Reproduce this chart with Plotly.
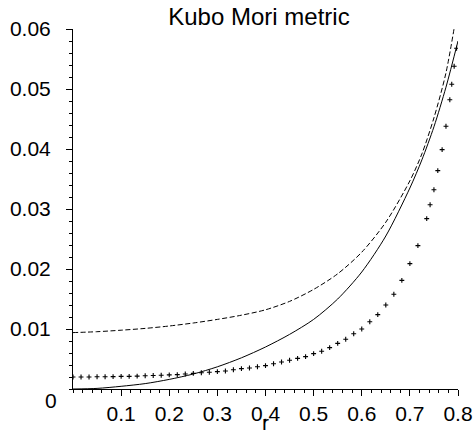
import plotly.graph_objects as go

# Solid curve
r_solid = [0.0, 0.05, 0.1, 0.15, 0.2, 0.25, 0.3, 0.35, 0.4, 0.45, 0.5, 0.55,
           0.6, 0.65, 0.7, 0.725, 0.75, 0.775, 0.8]
v_solid = [0.0, 0.0001, 0.00045, 0.0009, 0.0016, 0.0025, 0.0037, 0.0052, 0.0070,
           0.0091, 0.0116, 0.0150, 0.0195, 0.0255, 0.0335, 0.0382, 0.0437, 0.0503, 0.0580]

# Dashed curve
r_dash = [0.0, 0.05, 0.1, 0.15, 0.2, 0.25, 0.3, 0.35, 0.4, 0.45, 0.5, 0.55,
          0.6, 0.65, 0.7, 0.725, 0.75, 0.775, 0.8]
v_dash = [0.0094, 0.00955, 0.0098, 0.0101, 0.0105, 0.0110, 0.0116, 0.0123, 0.0132,
          0.0146, 0.0166, 0.0192, 0.0228, 0.0278, 0.0347, 0.0392, 0.0452, 0.0527, 0.0640]

# Point series (+ markers)
r_pts = [0.0, 0.0167, 0.0333, 0.05, 0.0667, 0.0833, 0.1, 0.1167, 0.1333, 0.15,
         0.1667, 0.1833, 0.2, 0.2167, 0.2333, 0.25, 0.2667, 0.2833, 0.3, 0.3167,
         0.3333, 0.35, 0.3667, 0.3833, 0.4, 0.4167, 0.4333, 0.45, 0.4667, 0.4833,
         0.5, 0.5167, 0.5333, 0.55, 0.5667, 0.5833, 0.6, 0.6167, 0.6333, 0.65,
         0.6667, 0.6833, 0.7, 0.7167, 0.735, 0.742, 0.75, 0.758, 0.767, 0.775,
         0.783, 0.787, 0.792, 0.797]
v_pts = [0.0020, 0.0020, 0.0020, 0.00205, 0.00205, 0.00207, 0.0021, 0.0021, 0.00215,
         0.0022, 0.00225, 0.0023, 0.00235, 0.0024, 0.0025, 0.0026, 0.0027, 0.0028,
         0.0029, 0.0030, 0.0032, 0.0034, 0.0035, 0.0037, 0.0039, 0.0042, 0.0045,
         0.0048, 0.0051, 0.0054, 0.0059, 0.0063, 0.0069, 0.0076, 0.0083, 0.0092,
         0.0100, 0.0112, 0.0124, 0.0140, 0.0158, 0.0181, 0.0209, 0.0239, 0.0284,
         0.0307, 0.0332, 0.0364, 0.0399, 0.0438, 0.0482, 0.0508, 0.0538, 0.0568]

x_ticks = [0.1, 0.2, 0.3, 0.4, 0.5, 0.6, 0.7, 0.8]
x_tick_labels = ["0.1", "0.2", "0.3", "0.4", "0.5", "0.6", "0.7", "0.8"]
y_ticks = [0.01, 0.02, 0.03, 0.04, 0.05, 0.06]
y_tick_labels = ["0.01", "0.02", "0.03", "0.04", "0.05", "0.06"]

FONT = "Liberation Sans, Arial, sans-serif"

fig = go.Figure()
fig.add_trace(go.Scatter(x=r_solid, y=v_solid, mode="lines", line=dict(color="black", width=1),
                         line_shape="spline", line_smoothing=0.8, showlegend=False))
fig.add_trace(go.Scatter(x=r_dash, y=v_dash, mode="lines",
                         line=dict(color="black", width=1, dash="5px,2.5px"),
                         line_shape="spline", line_smoothing=0.8, showlegend=False))
fig.add_trace(go.Scatter(x=r_pts, y=v_pts, mode="markers",
                         marker=dict(symbol="cross-thin", size=3.5, line=dict(color="black", width=1.1)),
                         showlegend=False))

fig.update_layout(
    width=473, height=433,
    margin=dict(l=72.7, r=15, t=29.3, b=43.7, autoexpand=False),
    paper_bgcolor="white", plot_bgcolor="white",
    font=dict(family=FONT, size=21, color="black"),
    title=dict(text="Kubo Mori metric", x=0.483, xref="paper", xanchor="center",
               y=0.962, yref="container", yanchor="middle",
               font=dict(family=FONT, size=24, color="black")),
    xaxis=dict(range=[0, 0.8], showgrid=False, zeroline=False, showline=True, automargin=False,
               linecolor="black", linewidth=1, ticks="outside", ticklen=6, tickcolor="black",
               tickvals=x_ticks, ticktext=x_tick_labels, tickfont=dict(size=21),
               minor=dict(dtick=0.02, tick0=0, ticks="outside", ticklen=3, tickcolor="black")),
    yaxis=dict(range=[0, 0.06], showgrid=False, zeroline=False, showline=True, automargin=False,
               linecolor="black", linewidth=1, ticks="outside", ticklen=6, tickcolor="black",
               tickvals=y_ticks, ticktext=y_tick_labels, tickfont=dict(size=21),
               ticklabelstandoff=11,
               minor=dict(dtick=0.002, tick0=0, ticks="outside", ticklen=3, tickcolor="black")),
)

fig.add_annotation(x=0, y=0, xref="x", yref="y", text="0", showarrow=False,
                   xanchor="right", yanchor="middle", xshift=-14, yshift=-11,
                   font=dict(family=FONT, size=21, color="black"))
fig.add_annotation(x=0.5, y=0, xref="paper", yref="paper", text="r", showarrow=False,
                   xanchor="center", yanchor="middle", yshift=-33,
                   font=dict(family=FONT, size=21, color="black"))

fig.write_html("out.html", config={"displayModeBar": False},
               post_script="document.body.style.margin='0px';document.body.style.overflow='hidden';")
